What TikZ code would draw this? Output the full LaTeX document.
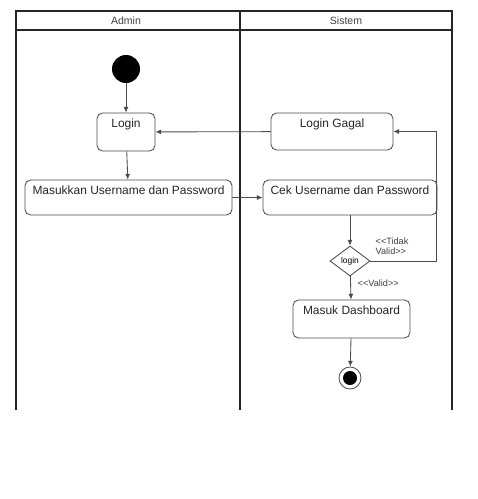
\documentclass[tikz,border=0pt]{standalone}
\usepackage{fontspec}
\setmainfont{Liberation Sans}
\usetikzlibrary{shapes.geometric,arrows.meta}
\begin{document}
\begin{tikzpicture}[x=0.025cm,y=-0.025cm,
  lane/.style={line width=1.1pt,draw=black!85},
  box/.style={draw=black!70,line width=0.6pt,rounded corners=4pt,fill=white,inner sep=0pt},
  flow/.style={draw=black!70,line width=0.6pt,-{Latex[length=4pt,width=3.5pt]}},
  lbl/.style={font=\fontsize{6.5}{7}\selectfont,text=black!75,inner sep=1pt},
  txt/.style={font=\fontsize{8.5}{10}\selectfont,text=black!85}]
\useasboundingbox (0,0) rectangle (478,499);
\fill[white] (0,0) rectangle (478,499);
% swimlanes
\draw[lane] (16,410) -- (16,11) -- (452,11) -- (452,410);
\draw[lane] (16,30) -- (452,30);
\draw[lane] (240,11) -- (240,410);
\node[lbl,font=\fontsize{7.5}{9}\selectfont] (hA) at (126,20.5) {Admin};
\node[lbl,font=\fontsize{7.5}{9}\selectfont] (hS) at (346,20.5) {Sistem};
% nodes
\node[circle,fill=black,minimum size=0.7cm,inner sep=0pt] (start) at (126,69) {};
\node[box,minimum width=1.45cm,minimum height=0.95cm,
  label={[txt,anchor=north,inner sep=0pt,yshift=-4pt]north:Login}] (login) at (126,132) {};
\node[box,minimum width=5.175cm,minimum height=0.875cm,
  label={[txt,anchor=north,inner sep=0pt,yshift=-4pt]north:Masukkan Username dan Password}] (masuk) at (128.5,197.5) {};
\node[box,minimum width=4.35cm,minimum height=0.875cm,
  label={[txt,anchor=north,inner sep=0pt,yshift=-4pt]north:Cek Username dan Password}] (cek) at (350,197.5) {};
\node[box,minimum width=3.05cm,minimum height=0.925cm,
  label={[txt,anchor=north,inner sep=0pt,yshift=-4pt]north:Login Gagal}] (gagal) at (332,131.5) {};
\node[diamond,draw=black!70,line width=0.6pt,fill=white,minimum width=1cm,minimum height=0.75cm,inner sep=0pt,
  font=\fontsize{6}{7}\selectfont] (dec) at (350,261) {login};
\node[box,minimum width=2.925cm,minimum height=0.95cm,
  label={[txt,anchor=north,inner sep=0pt,yshift=-4pt]north:Masuk Dashboard}] (dash) at (351.5,319) {};
\node[circle,draw=black!70,line width=0.6pt,minimum size=0.55cm,inner sep=0pt] (end) at (350,378) {};
\fill[black] (end.center) circle (0.175cm);
\coordinate (c1) at (436,261);
% connectors
\draw[flow] (start) -- (login);
\draw[flow] (login) -- (masuk);
\draw[flow] (masuk) -- (cek);
\draw[flow] (cek) -- (dec);
\draw[flow] (dec.east) -- (c1) |- (gagal.east);
\draw[flow] (gagal) -- (login);
\draw[flow] (dec) -- (dash);
\draw[flow] (dash) -- (end);
% guard labels
\node[lbl,align=left,anchor=south west] (tv) at (374,256) {{<}{<}Tidak\\Valid{>}{>}};
\node[lbl,anchor=west] (v) at (356,283) {{<}{<}Valid{>}{>}};
\end{tikzpicture}
\end{document}
